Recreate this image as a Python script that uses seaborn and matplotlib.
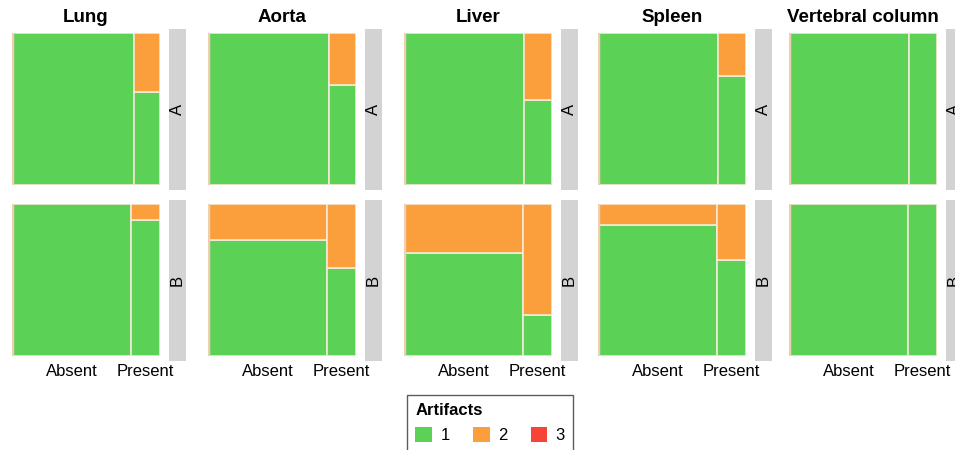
import matplotlib
matplotlib.use("Agg")
import matplotlib.pyplot as plt
import seaborn as sns
from matplotlib.patches import Patch

# ---------------- data ----------------
organs = ["Lung", "Aorta", "Liver", "Spleen", "Vertebral column"]
groups = ["A", "B"]
status = ["Absent", "Present"]
artifact_levels = ["1", "2", "3"]

# share of cases with finding "Present" (column width), per organ
present_share_A = [0.176, 0.180, 0.190, 0.190, 0.187]
present_share_B = [0.196, 0.195, 0.195, 0.195, 0.197]

# share of artifact grade 2 within Absent / Present columns
art2_absent_A = [0.00, 0.00, 0.00, 0.00, 0.00]
art2_present_A = [0.39, 0.34, 0.44, 0.28, 0.00]
art2_absent_B = [0.00, 0.24, 0.32, 0.14, 0.00]
art2_present_B = [0.105, 0.42, 0.73, 0.37, 0.00]

# share of artifact grade 3 (none observed)
art3_absent_A = [0.0, 0.0, 0.0, 0.0, 0.0]
art3_present_A = [0.0, 0.0, 0.0, 0.0, 0.0]
art3_absent_B = [0.0, 0.0, 0.0, 0.0, 0.0]
art3_present_B = [0.0, 0.0, 0.0, 0.0, 0.0]

colors = ["#5bd156", "#fb9f3c", "#f84436"]

data = {
    "A": (present_share_A, art2_absent_A, art2_present_A, art3_absent_A, art3_present_A),
    "B": (present_share_B, art2_absent_B, art2_present_B, art3_absent_B, art3_present_B),
}

# ---------------- style ----------------
sns.set_theme(style="white")
plt.rcParams['font.family'] = ['Liberation Sans', 'DejaVu Sans']
plt.rcParams['text.color'] = 'black'
plt.rcParams['xtick.color'] = 'black'

W, H = 955, 450
fig = plt.figure(figsize=(W / 100, H / 100), dpi=100)

lefts = [12, 208, 404, 598, 789]
pw = 148
tops = {"A": 33, "B": 204}
ph = 152
edge = "#f3ead7"

for i, organ in enumerate(organs):
    for g in groups:
        pshare, a2abs, a2pre, a3abs, a3pre = data[g]
        p = pshare[i]
        widths = [1 - p, p]
        xs = [0.0, 1 - p]
        a2 = [a2abs[i], a2pre[i]]
        a3 = [a3abs[i], a3pre[i]]
        a1 = [1 - a2[k] - a3[k] for k in range(2)]
        ax = fig.add_axes([lefts[i] / W, 1 - (tops[g] + ph) / H, pw / W, ph / H])
        bottom = [0.0, 0.0]
        for lvl, vals, col in zip(artifact_levels, [a1, a2, a3], colors):
            for k in range(2):
                if vals[k] > 0:
                    ax.bar(xs[k], vals[k], width=widths[k], bottom=bottom[k],
                           align="edge", color=col, edgecolor=edge, linewidth=1.2)
                bottom[k] += vals[k]
        ax.axvline(0, color="#efcfb3", lw=2.5)
        ax.set_xlim(0, 1)
        ax.set_ylim(0, 1)
        for s in ax.spines.values():
            s.set_visible(False)
        ax.set_yticks([])
        if g == "B":
            ax.set_xticks([(1 - p) / 2, 1 - p / 2])
            ax.set_xticklabels(status, fontsize=12, color="black")
            ax.tick_params(axis="x", length=0, pad=5.5)
        else:
            ax.set_xticks([])
            fig.text((lefts[i] + pw / 2) / W, 1 - 18 / H, organ, color="black",
                     ha="center", va="center", fontsize=13.5, fontweight="bold")
        # facet strip
        sax = fig.add_axes([(lefts[i] + pw + 9) / W, 1 - (tops[g] + ph + 5) / H,
                            17 / W, (ph + 9) / H])
        sax.set_facecolor("#d3d3d3")
        for s in sax.spines.values():
            s.set_visible(False)
        sax.set_xticks([])
        sax.set_yticks([])
        sax.text(0.5, 0.5, g, rotation=90, ha="center", va="center",
                 fontsize=12, color="black", transform=sax.transAxes)

handles = [Patch(facecolor=c, edgecolor="none") for c in colors]
leg = fig.legend(handles, artifact_levels, title="Artifacts", ncol=3,
                 loc="upper left", bbox_to_anchor=(407 / W, 1 - 395 / H),
                 borderaxespad=0,
                 fontsize=12, title_fontproperties={"weight": "bold", "size": 12},
                 frameon=True, fancybox=False, edgecolor="#333333",
                 handlelength=1.0, handleheight=1.0, handletextpad=0.5,
                 columnspacing=1.4, alignment="left", borderpad=0.5)
leg.get_frame().set_linewidth(1.0)

fig.savefig("out.png", dpi=100)
